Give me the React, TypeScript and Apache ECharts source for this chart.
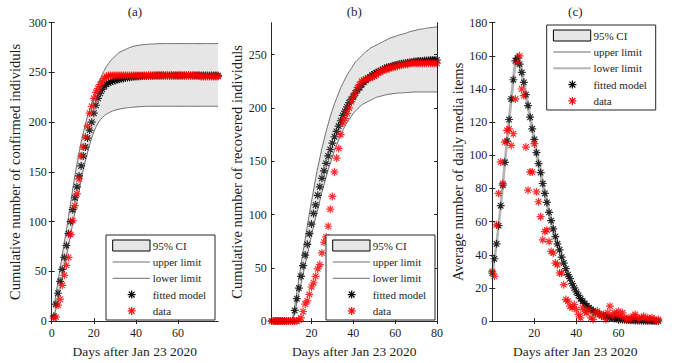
import React, { useEffect, useRef } from "react";
import * as echarts from "echarts";

// ---------- Panel (a): cumulative confirmed, days 1..79 ----------
const aFitted = [5, 17, 28, 40, 52, 64, 76, 88, 100, 112, 124, 135, 146, 156, 166, 175, 184, 192, 200, 209,
  217, 224, 229, 233, 236, 238, 239.5, 240.5, 241.3, 242, 242.6, 243.1, 243.6, 244, 244.4, 244.8, 245.1, 245.4, 245.6, 245.8,
  246, 246.2, 246.3, 246.4, 246.5, 246.6, 246.7, 246.7, 246.8, 246.8, 246.9, 247, 247, 247, 247, 247, 247, 247, 247, 247,
  247, 247, 247, 247, 247, 247, 247, 247, 247, 247, 247, 247, 247, 247, 247, 247, 247, 247, 247];
const aData = [3, 4, 16, 22, 36, 46, 56, 64, 87, 101, 116, 128, 143, 166, 175, 185, 196, 209, 216, 224,
  230, 234, 238, 241, 244, 246, 247, 247, 247, 247, 247, 247, 247, 247, 247, 247, 247, 247, 247, 247,
  247, 247, 247, 247, 247, 247, 247, 247, 247, 247, 247, 247, 247, 247, 247, 247, 247, 247, 247, 247,
  247, 247, 247, 247, 247, 247, 247, 247, 247, 247, 246, 246, 246, 246, 246, 246, 246, 246, 246];
const aUpper = [14, 27, 40, 53, 66, 79, 92, 105, 119, 133, 146, 158, 169, 180, 189, 198, 206, 212, 218, 225,
  231, 237, 243, 248, 252, 256, 259, 262, 264, 266, 268, 270, 271, 272, 273, 274, 275, 275.7, 276.3, 276.8,
  277.2, 277.5, 277.8, 278, 278.2, 278.4, 278.5, 278.6, 278.7, 278.8, 279, 279, 279, 279, 279, 279, 279, 279, 279, 279,
  279, 279, 279, 279, 279, 279, 279, 279, 279, 279, 279, 279, 279, 279, 279, 279, 279, 279, 279];
const aLower = [3, 12, 22, 32, 43, 54, 65, 76, 87, 98, 109, 120, 131, 142, 152, 161, 169, 177, 184, 190,
  195, 199, 202, 204.5, 206.5, 208, 209.3, 210.4, 211.3, 212, 212.6, 213.1, 213.5, 213.9, 214.2, 214.5, 214.7, 214.9, 215.1, 215.3,
  215.5, 215.6, 215.7, 215.8, 215.9, 216, 216, 216, 216, 216, 216, 216, 216, 216, 216, 216, 216, 216, 216, 216,
  216, 216, 216, 216, 216, 216, 216, 216, 216, 216, 216, 216, 216, 216, 216, 216, 216, 216, 216];

// ---------- Panel (b): cumulative recovered, days 1..80 ----------
const bFitted = [0, 0, 0, 0, 0, 0, 0, 0, 0, 0, 0, 10, 21, 31, 42, 52, 62, 72, 82, 91,
  101, 109, 118, 126, 134, 141, 148, 155, 161, 167, 173, 178, 183, 188, 193, 197, 201, 205, 208, 211,
  214, 217, 219, 222, 224, 226, 228, 229, 231, 232, 233, 234, 235, 236, 237, 238, 238.5, 239, 239.5, 240,
  240.5, 241, 241.5, 242, 242, 242.5, 243, 243, 243.5, 243.5, 244, 244, 244, 244.5, 244.5, 244.5, 245, 245, 245, 245];
const bData = [0, 0, 0, 0, 0, 0, 0, 0, 0, 0, 0, 0, 0, 1, 3, 9, 16, 19, 25, 32,
  36, 42, 49, 53, 64, 74, 79, 89, 105, 117, 140, 153, 162, 175, 186, 190, 195, 200, 206, 210,
  214, 219, 222, 225, 226, 227, 228, 228, 229, 230, 231, 233, 234, 235, 236, 236, 237, 238, 238, 239,
  239, 240, 240, 241, 241, 241, 242, 242, 242, 242, 242, 242, 242, 242, 242, 242, 242, 242, 242, 242];
const bUpper = [0, 0, 0, 0, 0, 0, 0, 0, 0, 0, 3, 14, 27, 40, 53, 65, 77, 89, 101, 112,
  123, 134, 144, 153, 162, 170, 178, 185, 192, 198, 204, 209, 214, 219, 223, 227, 231, 234, 237, 240,
  243, 245, 247, 249, 251, 253, 254, 256, 257, 258, 259, 260, 261, 262, 263, 264, 265, 266, 266.5, 267,
  268, 268.5, 269, 269.5, 270, 271, 271.5, 272, 272.5, 273, 273.5, 274, 274, 274.5, 275, 275, 275.5, 275.5, 276, 276];
const bLower = [0, 0, 0, 0, 0, 0, 0, 0, 0, 0, 0, 7, 17, 26, 35, 44, 53, 62, 71, 80,
  89, 97, 105, 113, 121, 128, 135, 142, 148, 154, 160, 165, 170, 175, 179, 183, 186, 189, 192, 195,
  197, 199, 201, 203, 204, 205, 206, 207, 208, 209, 210, 210.5, 211, 211.5, 212, 212.5, 213, 213, 213.5, 213.5,
  214, 214, 214, 214.3, 214.5, 214.5, 214.7, 214.8, 215, 215, 215, 215, 215, 215, 215, 215, 215, 215, 215, 215];

// ---------- Panel (c): daily media items, days 0..79 ----------
const cFitted = [29, 37.6, 46.6, 57.6, 69.6, 82, 95.8, 108.6, 121.6, 134, 145.6, 157, 158.6, 155, 150, 144, 136.6, 130, 123, 116,
  109.6, 101.6, 95, 89.6, 83, 77, 71.6, 65.6, 60.6, 55.6, 51, 46.6, 43, 38.6, 35, 31.6, 28, 25.6, 22.6, 20,
  17.6, 15.5, 13.5, 12, 10.5, 9.2, 8, 7, 6.2, 5.4, 4.7, 4.1, 3.6, 3.1, 2.7, 2.4, 2.1, 1.8, 1.6, 1.4,
  1.2, 1.05, 0.9, 0.8, 0.7, 0.6, 0.52, 0.45, 0.4, 0.35, 0.3, 0.26, 0.23, 0.2, 0.17, 0.15, 0.13, 0.11, 0.1, 0.09];
const cData = [30, 27, 58, 77, 96, 83, 108, 115, 116, 106, 113, 134, 156, 160, 140, 136, 105, 79, 90, 90,
  107, 78, 72, 63, 49, 54, 55, 48, 42, 41, 35, 34, 29, 29, 22, 13, 12, 9, 8, 10,
  7, 4, 2, 8, 6, 5, 7, 2, 1, 5, 6, 4, 3, 4, 1, 5, 9, 3, 5, 4,
  6, 3, 5, 2, 1, 2, 1, 3, 4, 2, 1, 2, 3, 1, 2, 1, 2, 1, 0, 1];
const cUpper = [30, 39, 48, 59, 71.2, 84, 98, 111, 124, 136.5, 148, 159.5, 161.5, 157, 152, 146, 138.7, 132, 125, 118,
  111.7, 103.7, 97, 91.7, 85, 79, 73.4, 67.2, 62.2, 57.2, 52.4, 47.9, 44.2, 39.7, 36, 32.5, 28.8, 26.4, 23.3, 20.6,
  18.2, 16, 14, 12.4, 10.9, 9.5, 8.3, 7.3, 6.4, 5.6, 4.9, 4.3, 3.8, 3.2, 2.8, 2.5, 2.2, 1.9, 1.7, 1.5,
  1.25, 1.1, 0.94, 0.84, 0.74, 0.63, 0.54, 0.47, 0.42, 0.37, 0.31, 0.27, 0.24, 0.21, 0.18, 0.16, 0.14, 0.12, 0.11, 0.1];
const cLower = [28, 36, 45, 56, 68, 80, 93.5, 106, 119, 131.5, 143, 154, 156, 153, 148, 142, 134.5, 128, 121, 114,
  107.5, 99.5, 93, 87.5, 81, 75, 69.8, 64, 59, 54, 49.6, 45.3, 41.8, 37.5, 34, 30.7, 27.2, 24.8, 21.9, 19.4,
  17, 15, 13, 11.6, 10.1, 8.9, 7.7, 6.7, 6, 5.2, 4.5, 3.9, 3.4, 3, 2.6, 2.3, 2, 1.7, 1.5, 1.3,
  1.15, 1, 0.86, 0.76, 0.66, 0.57, 0.5, 0.43, 0.38, 0.33, 0.29, 0.25, 0.22, 0.19, 0.16, 0.14, 0.12, 0.1, 0.09, 0.08];

// ---------- axes / text ----------
const titles = ["(a)", "(b)", "(c)"];
const yNames = [
  "Cumulative number of confirmed individuls",
  "Cumulative number of recovered individuls",
  "Average number of daily media items",
];
const xName = "Days after Jan 23 2020";
const xRanges = [[0, 79], [1, 80], [0, 79]];
const xTicks = [[0, 20, 40, 60], [20, 40, 60, 80], [20, 40, 60]];
const yRanges = [[0, 300], [0, 280], [0, 180]];
const yTicks = [
  [0, 50, 100, 150, 200, 250, 300],
  [0, 50, 100, 150, 200, 250],
  [0, 20, 40, 60, 80, 100, 120, 140, 160, 180],
];
const legendLabels = ["95% CI", "upper limit", "lower limit", "fitted model", "data"];
const firstDay = [1, 1, 0];

const FONT = "'Liberation Serif', 'Times New Roman', serif";
const INK = "#1e1e1e";
const STAR = "path://M5 0V10M0 5H10M1.5 1.5L8.5 8.5M1.5 8.5L8.5 1.5";

const grids = [
  { left: 51.7, top: 22.7, width: 166.3, height: 300 },
  { left: 271.7, top: 22.7, width: 165.3, height: 300 },
  { left: 492.3, top: 22.7, width: 166, height: 300 },
];
const legendPos = [
  [106, 235],
  [326, 235],
  [546.7, 25],
];
const limitStyle = [
  { color: "#707070", width: 1 },
  { color: "#707070", width: 1 },
  { color: "#b4b4b4", width: 2 },
];

function pairs(start: number, vals: number[]) {
  return vals.map((v, i) => [start + i, v]);
}

function starLines(cx: number, cy: number, color: string) {
  const r = 4, d = 2.9;
  const segs = [
    [cx - r, cy, cx + r, cy],
    [cx, cy - r, cx, cy + r],
    [cx - d, cy - d, cx + d, cy + d],
    [cx - d, cy + d, cx + d, cy - d],
  ];
  return segs.map((s) => ({
    type: "line",
    z: 100,
    shape: { x1: s[0], y1: s[1], x2: s[2], y2: s[3] },
    style: { stroke: color, lineWidth: 1.2 },
  }));
}

function legendGraphic(i: number) {
  const [x, y] = legendPos[i];
  const rows = [10.7, 27, 43.3, 59.6, 75.9];
  const ls = limitStyle[i];
  const els: any[] = [
    { type: "rect", z: 100, shape: { x, y, width: 109, height: 85 }, style: { fill: "#fff", stroke: "#262626", lineWidth: 1 } },
    { type: "rect", z: 100, shape: { x: x + 6.7, y: y + 5, width: 37.3, height: 11 }, style: { fill: "#e6e6e6", stroke: "#000", lineWidth: 1 } },
    { type: "line", z: 100, shape: { x1: x + 6.7, y1: y + rows[1], x2: x + 44, y2: y + rows[1] }, style: { stroke: ls.color, lineWidth: ls.width } },
    { type: "line", z: 100, shape: { x1: x + 6.7, y1: y + rows[2], x2: x + 44, y2: y + rows[2] }, style: { stroke: ls.color, lineWidth: ls.width } },
    ...starLines(x + 25.7, y + rows[3], "#000"),
    ...starLines(x + 25.7, y + rows[4], "#ff0000"),
  ];
  legendLabels.forEach((t, k) => {
    els.push({
      type: "text",
      z: 100,
      x: x + 46.7,
      y: y + rows[k],
      style: { text: t, fill: INK, font: `11px ${FONT}`, textVerticalAlign: "middle", textAlign: "left" },
    });
  });
  return els;
}

function buildOption() {
  const panels = [
    { f: aFitted, d: aData, u: aUpper, l: aLower },
    { f: bFitted, d: bData, u: bUpper, l: bLower },
    { f: cFitted, d: cData, u: cUpper, l: cLower },
  ];
  const xAxis: any[] = [];
  const yAxis: any[] = [];
  const series: any[] = [];
  const graphic: any[] = [];
  const axisLine = { show: true, lineStyle: { color: "#262626", width: 1 } };

  panels.forEach((p, i) => {
    const tickCommon = { inside: true, length: 3, lineStyle: { color: "#262626" } };
    xAxis.push({
      type: "value", gridIndex: i, position: "bottom", z: 10,
      min: xRanges[i][0], max: xRanges[i][1],
      axisLine, splitLine: { show: false },
      axisTick: { ...tickCommon, customValues: xTicks[i] },
      axisLabel: { customValues: xTicks[i], color: INK, fontFamily: FONT, fontSize: 12, margin: 6 },
      name: xName, nameLocation: "middle", nameGap: 22,
      nameTextStyle: { color: INK, fontFamily: FONT, fontSize: 13.5 },
    });
    xAxis.push({
      type: "value", gridIndex: i, position: "top", z: 10,
      min: xRanges[i][0], max: xRanges[i][1],
      axisLine, splitLine: { show: false },
      axisTick: { ...tickCommon, customValues: xTicks[i] },
      axisLabel: { show: false },
    });
    yAxis.push({
      type: "value", gridIndex: i, position: "left", z: 10,
      min: yRanges[i][0], max: yRanges[i][1],
      axisLine, splitLine: { show: false },
      axisTick: { ...tickCommon, customValues: yTicks[i] },
      axisLabel: { customValues: yTicks[i], color: INK, fontFamily: FONT, fontSize: 12, margin: 5 },
      name: yNames[i], nameLocation: "middle", nameGap: i === 0 ? 29 : 27, nameRotate: 90,
      nameTextStyle: { color: INK, fontFamily: FONT, fontSize: 14.5 },
    });
    yAxis.push({
      type: "value", gridIndex: i, position: "right", z: 10,
      min: yRanges[i][0], max: yRanges[i][1],
      axisLine, splitLine: { show: false },
      axisTick: { ...tickCommon, customValues: yTicks[i] },
      axisLabel: { show: false },
    });

    const ls = limitStyle[i];
    const s0 = firstDay[i];
    series.push({
      type: "line", xAxisIndex: 2 * i, yAxisIndex: 2 * i, name: "upper limit",
      data: pairs(s0, p.u), showSymbol: false, symbol: "none", z: 1,
      lineStyle: { color: ls.color, width: ls.width },
      areaStyle: { color: "#e6e6e6", opacity: 1 },
    });
    series.push({
      type: "line", xAxisIndex: 2 * i, yAxisIndex: 2 * i, name: "lower limit",
      data: pairs(s0, p.l), showSymbol: false, symbol: "none", z: 1,
      lineStyle: { color: ls.color, width: ls.width },
      areaStyle: { color: "#ffffff", opacity: 1 },
    });
    series.push({
      type: "scatter", xAxisIndex: 2 * i, yAxisIndex: 2 * i, name: "fitted model",
      data: pairs(s0, p.f), symbol: STAR, symbolSize: 8, z: 3,
      itemStyle: { color: "#000", borderColor: "#000", borderWidth: 1.2 },
    });
    series.push({
      type: "scatter", xAxisIndex: 2 * i, yAxisIndex: 2 * i, name: "data",
      data: pairs(s0, p.d), symbol: STAR, symbolSize: 8, z: 4,
      itemStyle: { color: "#ff0000", borderColor: "#ff0000", borderWidth: 1.2 },
    });

    graphic.push({
      type: "text", z: 100,
      x: grids[i].left + grids[i].width / 2, y: 11,
      style: { text: titles[i], fill: INK, font: `13px ${FONT}`, textAlign: "center", textVerticalAlign: "middle" },
    });
    graphic.push(...legendGraphic(i));
  });

  return {
    animation: false,
    backgroundColor: "#ffffff",
    grid: grids,
    xAxis,
    yAxis,
    series,
    graphic,
  };
}

export default function App() {
  const ref = useRef<HTMLDivElement>(null);
  useEffect(() => {
    const chart = echarts.init(ref.current!, undefined, { renderer: "svg" });
    chart.setOption(buildOption() as any);
    return () => chart.dispose();
  }, []);
  return (
    <div
      ref={ref}
      style={{ position: "absolute", left: 0, top: 0, width: 674, height: 363, background: "#fff" }}
    />
  );
}
